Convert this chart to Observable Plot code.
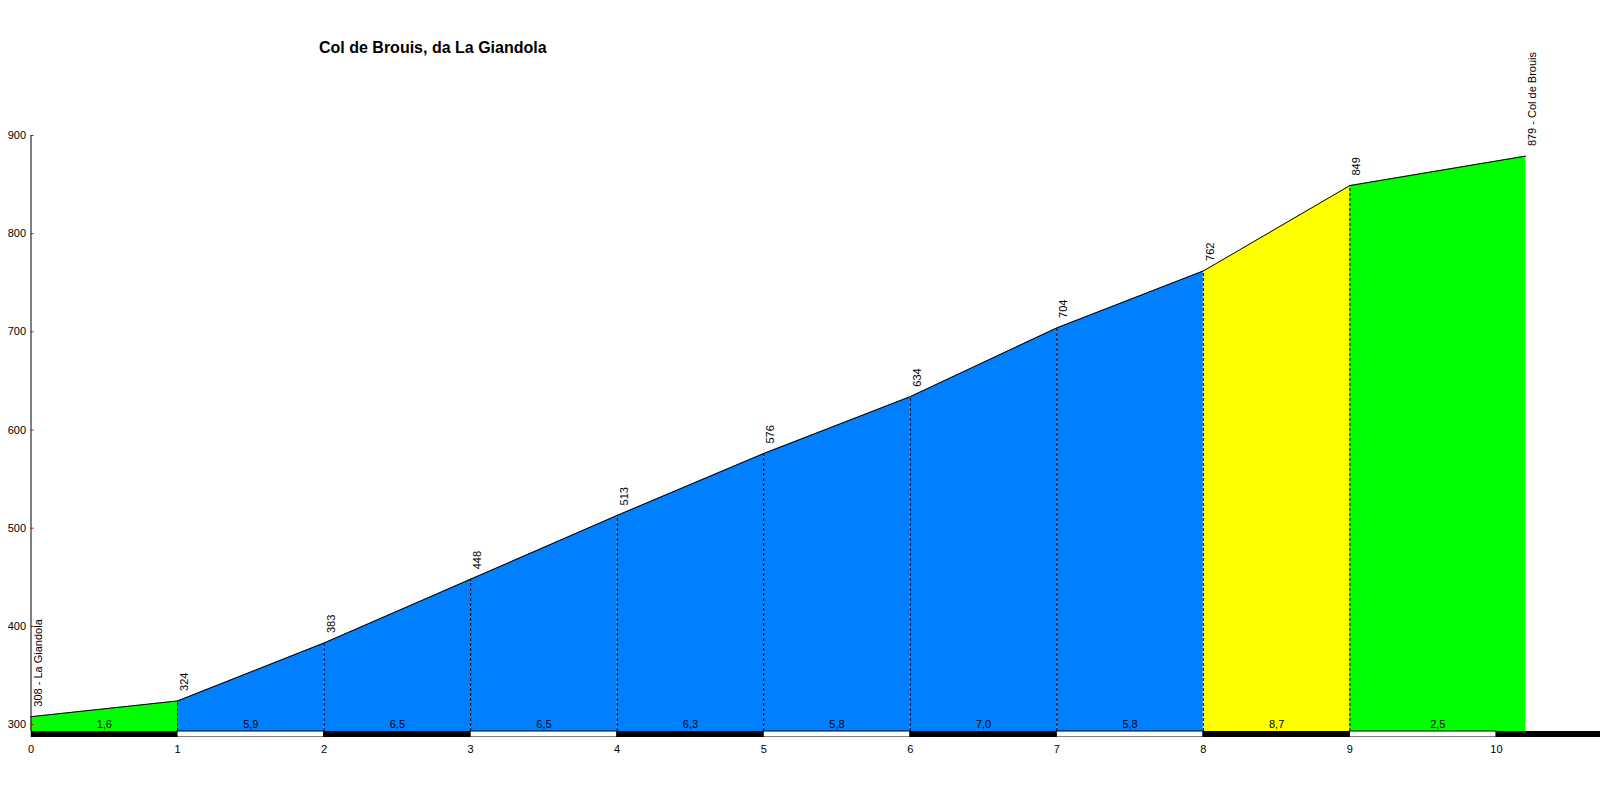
<!DOCTYPE html>
<html>
<head>
<meta charset="utf-8">
<script src="https://cdn.jsdelivr.net/npm/d3@7"></script>
<script src="https://cdn.jsdelivr.net/npm/@observablehq/plot@0.6"></script>
<style>
  html, body { margin: 0; padding: 0; background: #fff; }
  #wrap { position: relative; width: 1600px; height: 800px; font-family: "Liberation Sans", Arial, sans-serif; }
  #title { position: absolute; left: 319px; top: 40px; z-index: 2; font: bold 16px "Liberation Sans", Arial, sans-serif; line-height: 16px; color: #000; white-space: nowrap; }
  #chart { position: absolute; left: 0; top: 0; z-index: 1; }
</style>
</head>
<body>
<div id="wrap">
  <div id="title"></div>
  <div id="chart"></div>
</div>
<script>
// ---- data ----
const title = "Col de Brouis, da La Giandola";
const km = [0, 1, 2, 3, 4, 5, 6, 7, 8, 9, 10.2];
const elevation = [308, 324, 383, 448, 513, 576, 634, 704, 762, 849, 879];
const gradient = [1.6, 5.9, 6.5, 6.5, 6.3, 5.8, 7.0, 5.8, 8.7, 2.5];
const elevationLabels = ["308 - La Giandola", "324", "383", "448", "513", "576", "634", "704", "762", "849", "879 - Col de Brouis"];
const xTicks = [0, 1, 2, 3, 4, 5, 6, 7, 8, 9, 10];
const yTicks = [300, 400, 500, 600, 700, 800, 900];
const kmBar = [0, 1, 2, 3, 4, 5, 6, 7, 8, 9, 10];

// ---- layout constants ----
const base = 292.9;      // bottom of profile fill
const barBottom = 286.8; // bottom of km bar
const xMax = 10.71;

document.getElementById("title").textContent = title;

const points = km.map((k, i) => ({km: k, elev: elevation[i], label: elevationLabels[i]}));
const segPts = [];
gradient.forEach((g, i) => {
  segPts.push({seg: i, km: km[i], elev: elevation[i], g});
  segPts.push({seg: i, km: km[i + 1], elev: elevation[i + 1], g});
});
const segs = gradient.map((g, i) => ({mid: (km[i] + km[i + 1]) / 2, g, text: g.toFixed(1).replace(".", ",")}));
const inner = points.slice(1, -1);

const font = "Liberation Sans, Arial, sans-serif";

const chart = Plot.plot({
  width: 1600,
  height: 800,
  marginLeft: 30.5,
  marginRight: 0,
  marginTop: 135,
  marginBottom: 63,
  style: {fontFamily: font, fontSize: "11px", color: "#000", background: "transparent"},
  x: {domain: [0, xMax], ticks: xTicks, tickSize: 0, tickPadding: 8, label: null, tickFormat: d => String(d)},
  y: {domain: [barBottom, 900], ticks: yTicks, tickSize: 0, tickPadding: 5, label: null, tickFormat: d => String(d)},
  color: {type: "threshold", domain: [3, 8], range: ["#00ff00", "#0080ff", "#ffff00"]},
  marks: [
    Plot.areaY(segPts, {x: "km", y1: base, y2: "elev", z: "seg", fill: "g", fillOpacity: 1}),
    Plot.ruleX(inner, {x: "km", y1: base, y2: "elev", stroke: "#000", strokeWidth: 1, strokeDasharray: "3,2"}),
    Plot.line(points, {x: "km", y: "elev", stroke: "#000", strokeWidth: 1}),
    Plot.ruleX([0], {y1: base, y2: 900, stroke: "#000", strokeWidth: 1}),
    Plot.ruleY(yTicks, {x1: 0, x2: 0, insetRight: -3, stroke: "#cc0000", strokeWidth: 1}),
    Plot.rectY(kmBar.filter(k => k % 2 === 1), {x1: k => k, x2: k => k + 1, y1: barBottom, y2: base, fill: "#fff", stroke: "#000", strokeWidth: 1, clip: true}),
    Plot.rectY(kmBar.filter(k => k % 2 === 0), {x1: k => k, x2: k => k + 1, y1: barBottom, y2: base, fill: "#000", clip: true}),
    Plot.text(points, {x: "km", y: "elev", text: "label", rotate: -90, textAnchor: "start", dx: 7, dy: -10, fontSize: 11, fill: "#000"}),
    Plot.text(segs, {x: "mid", y: base, text: "text", dy: -7, fontSize: 11, fill: "#000"})
  ]
});
document.getElementById("chart").appendChild(chart);
</script>
</body>
</html>
